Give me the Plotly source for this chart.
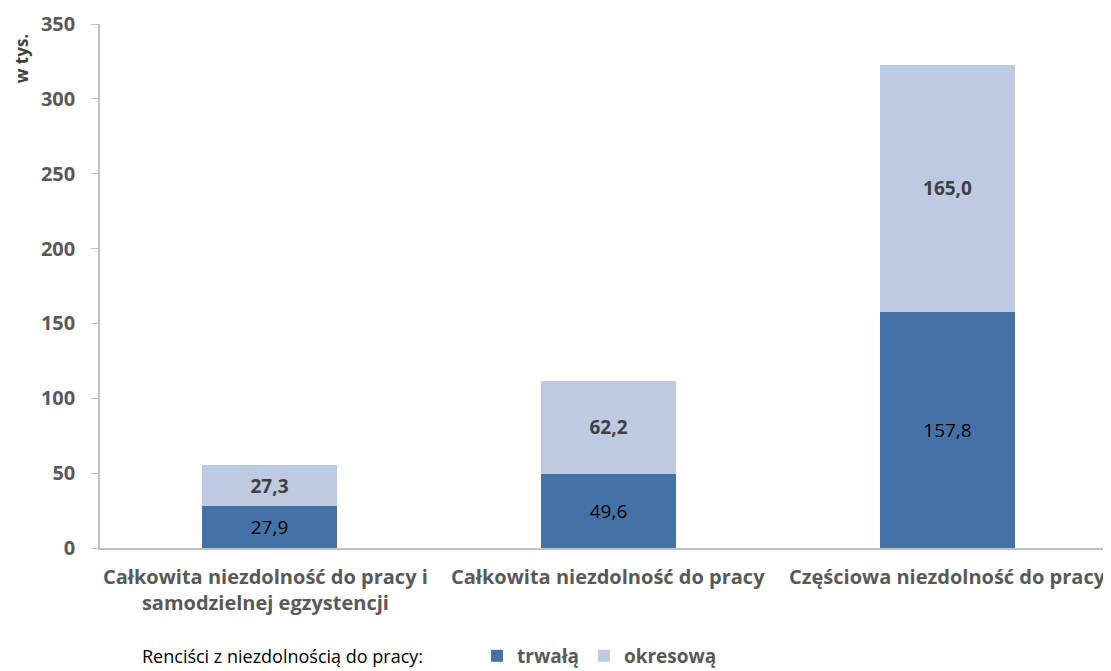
import plotly.graph_objects as go

categories = ["Całkowita niezdolność do pracy i<br>samodzielnej egzystencji",
              "Całkowita niezdolność do pracy",
              "Częściowa niezdolność do pracy"]
trwala = [27.9, 49.6, 157.8]
okresowa = [27.3, 62.2, 165.0]
series_names = ["trwałą", "okresową"]
yticks = [0, 50, 100, 150, 200, 250, 300, 350]

FONT = "Open Sans"
dark = "#4472A7"
light = "#BDCAE2"

def fmt(v):
    return f"{v:.1f}".replace(".", ",")

x = [0, 1, 2]
fig = go.Figure()
fig.add_trace(go.Bar(x=x, y=trwala, name="<b>" + series_names[0] + "</b>",
                     marker=dict(color=dark, line=dict(width=0)),
                     width=0.4, text=[fmt(v) for v in trwala], textposition="inside",
                     insidetextanchor="middle", textangle=0,
                     textfont=dict(family=FONT, size=19, color="#000000")))
fig.add_trace(go.Bar(x=x, y=okresowa, name="<b>" + series_names[1] + "</b>",
                     marker=dict(color=light, line=dict(width=0)),
                     width=0.4, text=["<b>" + fmt(v) + "</b>" for v in okresowa], textposition="inside",
                     insidetextanchor="middle", textangle=0,
                     textfont=dict(family=FONT, size=21, color="#404040")))

annotations = []
shifts = [-4, 0, 0]
for i, c in enumerate(categories):
    annotations.append(dict(x=i, y=0, xref="x", yref="y", text="<b>" + c + "</b>", showarrow=False,
                            yanchor="top", yshift=-13, xshift=shifts[i],
                            font=dict(family=FONT, size=20, color="#595959")))
annotations.append(dict(x=-0.0775, y=0.933, xref="paper", yref="paper", xanchor="center", yanchor="middle",
                        text="<b>w tys.</b>", textangle=-90, showarrow=False,
                        font=dict(family=FONT, size=17, color="#404040")))
annotations.append(dict(x=0, y=-0.206, xref="paper", yref="paper", xanchor="left", yanchor="middle",
                        xshift=40, text="Renciści z niezdolnością do pracy:", showarrow=False,
                        font=dict(family=FONT, size=18, color="#000000")))

fig.update_layout(
    width=1111, height=671,
    margin=dict(l=92, r=0, t=16, b=131),
    paper_bgcolor="white", plot_bgcolor="white",
    barmode="stack",
    font=dict(family=FONT),
    showlegend=True,
    legend=dict(orientation="h", x=0.37, y=-0.206, xanchor="left", yanchor="middle",
                font=dict(family=FONT, size=19, color="#595959"),
                traceorder="normal", itemsizing="constant"),
    xaxis=dict(range=[-0.5, 2.506], showticklabels=False, showline=True, linecolor="#BFBFBF",
               linewidth=1.5, ticks="", showgrid=False, zeroline=False),
    yaxis=dict(range=[0, 350], tickvals=yticks, ticktext=[f"<b>{v}</b>" for v in yticks],
               showline=True, linecolor="#BFBFBF", linewidth=1.5, ticks="outside", ticklen=7,
               tickcolor="#BFBFBF", showgrid=False, zeroline=False, ticklabelstandoff=12,
               tickfont=dict(family=FONT, size=20, color="#595959")),
    annotations=annotations,
    uniformtext=dict(mode="show", minsize=10),
)
fig.write_html("out.html")
